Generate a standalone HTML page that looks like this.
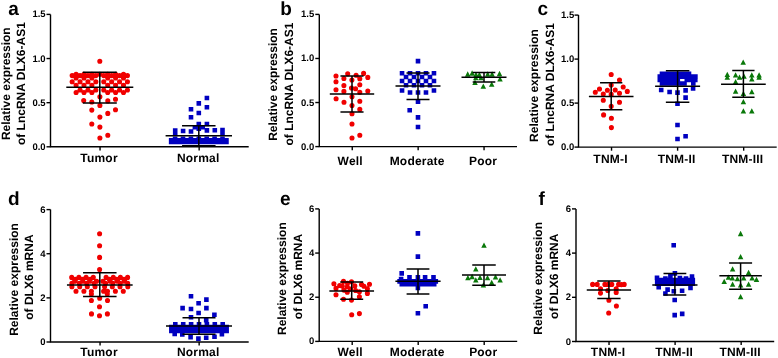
<!DOCTYPE html>
<html><head><meta charset="utf-8"><style>
html,body{margin:0;padding:0;background:#fff;}
svg{display:block;will-change:transform;}
text{font-family:"Liberation Sans", sans-serif;font-weight:bold;fill:#000;text-rendering:geometricPrecision;}
.tk{font-size:9.5px;}
.cat{font-size:12px;letter-spacing:0.2px;}
.let{font-size:19px;}
.yl{font-size:12px;}
</style></head><body>
<svg width="778" height="358" viewBox="0 0 778 358">
<path d="M50.5 14.4V146.8H248.7" fill="none" stroke="#000" stroke-width="1.4"/>
<line x1="46.5" y1="14.40" x2="50.5" y2="14.40" stroke="#000" stroke-width="1.4"/>
<text x="45.6" y="17.40" text-anchor="end" class="tk">1.5</text>
<line x1="46.5" y1="58.53" x2="50.5" y2="58.53" stroke="#000" stroke-width="1.4"/>
<text x="45.6" y="61.53" text-anchor="end" class="tk">1.0</text>
<line x1="46.5" y1="102.67" x2="50.5" y2="102.67" stroke="#000" stroke-width="1.4"/>
<text x="45.6" y="105.67" text-anchor="end" class="tk">0.5</text>
<line x1="46.5" y1="146.80" x2="50.5" y2="146.80" stroke="#000" stroke-width="1.4"/>
<text x="45.6" y="149.80" text-anchor="end" class="tk">0.0</text>
<line x1="100.05" y1="146.8" x2="100.05" y2="150.4" stroke="#000" stroke-width="1.4"/>
<text x="99.05" y="162.2" text-anchor="middle" class="cat">Tumor</text>
<line x1="199.15" y1="146.8" x2="199.15" y2="150.4" stroke="#000" stroke-width="1.4"/>
<text x="198.15" y="162.2" text-anchor="middle" class="cat">Normal</text>
<text x="8.3" y="15.1" class="let">a</text>
<text transform="translate(9.60 83.70) rotate(-90)" text-anchor="middle" class="yl">Relative expression</text>
<text transform="translate(24.90 83.60) rotate(-90)" text-anchor="middle" class="yl">of LncRNA DLX6-AS1</text>
<path fill="#f00000" d="M97.25 61.20a2.55 2.55 0 1 0 5.1 0a2.55 2.55 0 1 0 -5.1 0zM73.55 74.30a2.55 2.55 0 1 0 5.1 0a2.55 2.55 0 1 0 -5.1 0zM81.45 74.30a2.55 2.55 0 1 0 5.1 0a2.55 2.55 0 1 0 -5.1 0zM89.35 74.30a2.55 2.55 0 1 0 5.1 0a2.55 2.55 0 1 0 -5.1 0zM97.25 74.30a2.55 2.55 0 1 0 5.1 0a2.55 2.55 0 1 0 -5.1 0zM105.15 74.30a2.55 2.55 0 1 0 5.1 0a2.55 2.55 0 1 0 -5.1 0zM113.05 74.30a2.55 2.55 0 1 0 5.1 0a2.55 2.55 0 1 0 -5.1 0zM120.95 74.30a2.55 2.55 0 1 0 5.1 0a2.55 2.55 0 1 0 -5.1 0zM69.60 75.60a2.55 2.55 0 1 0 5.1 0a2.55 2.55 0 1 0 -5.1 0zM77.50 75.60a2.55 2.55 0 1 0 5.1 0a2.55 2.55 0 1 0 -5.1 0zM85.40 75.60a2.55 2.55 0 1 0 5.1 0a2.55 2.55 0 1 0 -5.1 0zM93.30 75.60a2.55 2.55 0 1 0 5.1 0a2.55 2.55 0 1 0 -5.1 0zM101.20 75.60a2.55 2.55 0 1 0 5.1 0a2.55 2.55 0 1 0 -5.1 0zM109.10 75.60a2.55 2.55 0 1 0 5.1 0a2.55 2.55 0 1 0 -5.1 0zM117.00 75.60a2.55 2.55 0 1 0 5.1 0a2.55 2.55 0 1 0 -5.1 0zM124.90 75.60a2.55 2.55 0 1 0 5.1 0a2.55 2.55 0 1 0 -5.1 0zM73.55 78.00a2.55 2.55 0 1 0 5.1 0a2.55 2.55 0 1 0 -5.1 0zM81.45 78.00a2.55 2.55 0 1 0 5.1 0a2.55 2.55 0 1 0 -5.1 0zM89.35 78.00a2.55 2.55 0 1 0 5.1 0a2.55 2.55 0 1 0 -5.1 0zM105.15 78.00a2.55 2.55 0 1 0 5.1 0a2.55 2.55 0 1 0 -5.1 0zM113.05 78.00a2.55 2.55 0 1 0 5.1 0a2.55 2.55 0 1 0 -5.1 0zM120.95 78.00a2.55 2.55 0 1 0 5.1 0a2.55 2.55 0 1 0 -5.1 0zM69.60 81.80a2.55 2.55 0 1 0 5.1 0a2.55 2.55 0 1 0 -5.1 0zM77.50 81.80a2.55 2.55 0 1 0 5.1 0a2.55 2.55 0 1 0 -5.1 0zM85.40 81.80a2.55 2.55 0 1 0 5.1 0a2.55 2.55 0 1 0 -5.1 0zM93.30 81.80a2.55 2.55 0 1 0 5.1 0a2.55 2.55 0 1 0 -5.1 0zM101.20 81.80a2.55 2.55 0 1 0 5.1 0a2.55 2.55 0 1 0 -5.1 0zM109.10 81.80a2.55 2.55 0 1 0 5.1 0a2.55 2.55 0 1 0 -5.1 0zM117.00 81.80a2.55 2.55 0 1 0 5.1 0a2.55 2.55 0 1 0 -5.1 0zM124.90 81.80a2.55 2.55 0 1 0 5.1 0a2.55 2.55 0 1 0 -5.1 0zM73.55 85.20a2.55 2.55 0 1 0 5.1 0a2.55 2.55 0 1 0 -5.1 0zM81.45 85.20a2.55 2.55 0 1 0 5.1 0a2.55 2.55 0 1 0 -5.1 0zM89.35 85.20a2.55 2.55 0 1 0 5.1 0a2.55 2.55 0 1 0 -5.1 0zM105.15 85.20a2.55 2.55 0 1 0 5.1 0a2.55 2.55 0 1 0 -5.1 0zM113.05 85.20a2.55 2.55 0 1 0 5.1 0a2.55 2.55 0 1 0 -5.1 0zM120.95 85.20a2.55 2.55 0 1 0 5.1 0a2.55 2.55 0 1 0 -5.1 0zM77.50 90.00a2.55 2.55 0 1 0 5.1 0a2.55 2.55 0 1 0 -5.1 0zM85.40 90.00a2.55 2.55 0 1 0 5.1 0a2.55 2.55 0 1 0 -5.1 0zM93.30 90.00a2.55 2.55 0 1 0 5.1 0a2.55 2.55 0 1 0 -5.1 0zM101.20 90.00a2.55 2.55 0 1 0 5.1 0a2.55 2.55 0 1 0 -5.1 0zM109.10 90.00a2.55 2.55 0 1 0 5.1 0a2.55 2.55 0 1 0 -5.1 0zM117.00 90.00a2.55 2.55 0 1 0 5.1 0a2.55 2.55 0 1 0 -5.1 0zM124.90 90.00a2.55 2.55 0 1 0 5.1 0a2.55 2.55 0 1 0 -5.1 0zM73.55 92.50a2.55 2.55 0 1 0 5.1 0a2.55 2.55 0 1 0 -5.1 0zM81.45 92.50a2.55 2.55 0 1 0 5.1 0a2.55 2.55 0 1 0 -5.1 0zM89.35 92.50a2.55 2.55 0 1 0 5.1 0a2.55 2.55 0 1 0 -5.1 0zM105.15 92.50a2.55 2.55 0 1 0 5.1 0a2.55 2.55 0 1 0 -5.1 0zM113.05 92.50a2.55 2.55 0 1 0 5.1 0a2.55 2.55 0 1 0 -5.1 0zM120.95 92.50a2.55 2.55 0 1 0 5.1 0a2.55 2.55 0 1 0 -5.1 0zM81.15 100.60a2.55 2.55 0 1 0 5.1 0a2.55 2.55 0 1 0 -5.1 0zM89.25 102.00a2.55 2.55 0 1 0 5.1 0a2.55 2.55 0 1 0 -5.1 0zM97.35 96.70a2.55 2.55 0 1 0 5.1 0a2.55 2.55 0 1 0 -5.1 0zM105.25 100.90a2.55 2.55 0 1 0 5.1 0a2.55 2.55 0 1 0 -5.1 0zM112.95 99.20a2.55 2.55 0 1 0 5.1 0a2.55 2.55 0 1 0 -5.1 0zM97.35 105.50a2.55 2.55 0 1 0 5.1 0a2.55 2.55 0 1 0 -5.1 0zM89.25 110.10a2.55 2.55 0 1 0 5.1 0a2.55 2.55 0 1 0 -5.1 0zM112.95 109.70a2.55 2.55 0 1 0 5.1 0a2.55 2.55 0 1 0 -5.1 0zM105.25 113.40a2.55 2.55 0 1 0 5.1 0a2.55 2.55 0 1 0 -5.1 0zM97.35 117.10a2.55 2.55 0 1 0 5.1 0a2.55 2.55 0 1 0 -5.1 0zM89.25 124.00a2.55 2.55 0 1 0 5.1 0a2.55 2.55 0 1 0 -5.1 0zM97.35 127.10a2.55 2.55 0 1 0 5.1 0a2.55 2.55 0 1 0 -5.1 0zM105.25 135.20a2.55 2.55 0 1 0 5.1 0a2.55 2.55 0 1 0 -5.1 0zM97.35 138.00a2.55 2.55 0 1 0 5.1 0a2.55 2.55 0 1 0 -5.1 0z"/>
<path fill="#0000c0" d="M204.60 95.70h4.6v4.6h-4.6zM196.50 101.10h4.6v4.6h-4.6zM204.60 105.00h4.6v4.6h-4.6zM188.70 107.00h4.6v4.6h-4.6zM196.50 110.70h4.6v4.6h-4.6zM188.70 115.00h4.6v4.6h-4.6zM196.50 121.70h4.6v4.6h-4.6zM204.60 121.70h4.6v4.6h-4.6zM172.90 128.20h4.6v4.6h-4.6zM180.80 128.70h4.6v4.6h-4.6zM188.70 129.20h4.6v4.6h-4.6zM196.50 126.30h4.6v4.6h-4.6zM204.60 128.10h4.6v4.6h-4.6zM212.50 127.90h4.6v4.6h-4.6zM220.20 127.70h4.6v4.6h-4.6zM220.20 131.30h4.6v4.6h-4.6zM172.90 131.50h4.6v4.6h-4.6zM192.60 125.00h4.6v4.6h-4.6zM200.40 125.00h4.6v4.6h-4.6zM172.80 136.60h4.6v4.6h-4.6zM180.70 136.60h4.6v4.6h-4.6zM188.60 136.60h4.6v4.6h-4.6zM196.50 136.60h4.6v4.6h-4.6zM204.40 136.60h4.6v4.6h-4.6zM212.30 136.60h4.6v4.6h-4.6zM220.20 136.60h4.6v4.6h-4.6zM168.85 138.10h4.6v4.6h-4.6zM172.80 138.10h4.6v4.6h-4.6zM176.75 138.10h4.6v4.6h-4.6zM180.70 138.10h4.6v4.6h-4.6zM184.65 138.10h4.6v4.6h-4.6zM188.60 138.10h4.6v4.6h-4.6zM192.55 138.10h4.6v4.6h-4.6zM196.50 138.10h4.6v4.6h-4.6zM200.45 138.10h4.6v4.6h-4.6zM204.40 138.10h4.6v4.6h-4.6zM208.35 138.10h4.6v4.6h-4.6zM212.30 138.10h4.6v4.6h-4.6zM216.25 138.10h4.6v4.6h-4.6zM220.20 138.10h4.6v4.6h-4.6zM224.15 138.10h4.6v4.6h-4.6zM168.85 139.70h4.6v4.6h-4.6zM172.80 139.70h4.6v4.6h-4.6zM176.75 139.70h4.6v4.6h-4.6zM180.70 139.70h4.6v4.6h-4.6zM184.65 139.70h4.6v4.6h-4.6zM188.60 139.70h4.6v4.6h-4.6zM192.55 139.70h4.6v4.6h-4.6zM196.50 139.70h4.6v4.6h-4.6zM200.45 139.70h4.6v4.6h-4.6zM204.40 139.70h4.6v4.6h-4.6zM208.35 139.70h4.6v4.6h-4.6zM212.30 139.70h4.6v4.6h-4.6zM216.25 139.70h4.6v4.6h-4.6zM220.20 139.70h4.6v4.6h-4.6zM224.15 139.70h4.6v4.6h-4.6z"/>
<path d="M66.30 87.2H133.30M82.80 72.3H116.80M82.80 103.1H116.80M99.80 72.3V103.1" fill="none" stroke="#000" stroke-width="1.5"/>
<path d="M165.60 135.7H232.00M182.05 125.8H215.55M182.05 145.8H215.55M198.80 125.8V145.8" fill="none" stroke="#000" stroke-width="1.5"/>
<path d="M319.3 14.4V146.6H517.0" fill="none" stroke="#000" stroke-width="1.4"/>
<line x1="315.3" y1="14.40" x2="319.3" y2="14.40" stroke="#000" stroke-width="1.4"/>
<text x="314.2" y="17.40" text-anchor="end" class="tk">1.5</text>
<line x1="315.3" y1="58.47" x2="319.3" y2="58.47" stroke="#000" stroke-width="1.4"/>
<text x="314.2" y="61.47" text-anchor="end" class="tk">1.0</text>
<line x1="315.3" y1="102.53" x2="319.3" y2="102.53" stroke="#000" stroke-width="1.4"/>
<text x="314.2" y="105.53" text-anchor="end" class="tk">0.5</text>
<line x1="315.3" y1="146.60" x2="319.3" y2="146.60" stroke="#000" stroke-width="1.4"/>
<text x="314.2" y="149.60" text-anchor="end" class="tk">0.0</text>
<line x1="352.25" y1="146.6" x2="352.25" y2="150.2" stroke="#000" stroke-width="1.4"/>
<text x="350.25" y="164.5" text-anchor="middle" class="cat">Well</text>
<line x1="418.15" y1="146.6" x2="418.15" y2="150.2" stroke="#000" stroke-width="1.4"/>
<text x="417.15" y="164.5" text-anchor="middle" class="cat">Moderate</text>
<line x1="484.05" y1="146.6" x2="484.05" y2="150.2" stroke="#000" stroke-width="1.4"/>
<text x="483.05" y="164.5" text-anchor="middle" class="cat">Poor</text>
<text x="280.2" y="15.1" class="let">b</text>
<text transform="translate(277.40 84.45) rotate(-90)" text-anchor="middle" class="yl">Relative expression</text>
<text transform="translate(293.00 84.05) rotate(-90)" text-anchor="middle" class="yl">of LncRNA DLX6-AS1</text>
<path fill="#f00000" d="M333.45 76.00a2.55 2.55 0 1 0 5.1 0a2.55 2.55 0 1 0 -5.1 0zM345.15 73.80a2.55 2.55 0 1 0 5.1 0a2.55 2.55 0 1 0 -5.1 0zM353.55 75.20a2.55 2.55 0 1 0 5.1 0a2.55 2.55 0 1 0 -5.1 0zM361.05 73.40a2.55 2.55 0 1 0 5.1 0a2.55 2.55 0 1 0 -5.1 0zM365.25 77.40a2.55 2.55 0 1 0 5.1 0a2.55 2.55 0 1 0 -5.1 0zM341.35 78.50a2.55 2.55 0 1 0 5.1 0a2.55 2.55 0 1 0 -5.1 0zM349.35 80.00a2.55 2.55 0 1 0 5.1 0a2.55 2.55 0 1 0 -5.1 0zM357.25 78.80a2.55 2.55 0 1 0 5.1 0a2.55 2.55 0 1 0 -5.1 0zM333.45 81.70a2.55 2.55 0 1 0 5.1 0a2.55 2.55 0 1 0 -5.1 0zM341.35 85.50a2.55 2.55 0 1 0 5.1 0a2.55 2.55 0 1 0 -5.1 0zM357.25 84.70a2.55 2.55 0 1 0 5.1 0a2.55 2.55 0 1 0 -5.1 0zM333.45 89.70a2.55 2.55 0 1 0 5.1 0a2.55 2.55 0 1 0 -5.1 0zM348.95 88.00a2.55 2.55 0 1 0 5.1 0a2.55 2.55 0 1 0 -5.1 0zM353.05 88.80a2.55 2.55 0 1 0 5.1 0a2.55 2.55 0 1 0 -5.1 0zM341.35 91.40a2.55 2.55 0 1 0 5.1 0a2.55 2.55 0 1 0 -5.1 0zM357.25 92.20a2.55 2.55 0 1 0 5.1 0a2.55 2.55 0 1 0 -5.1 0zM365.25 91.00a2.55 2.55 0 1 0 5.1 0a2.55 2.55 0 1 0 -5.1 0zM333.55 98.80a2.55 2.55 0 1 0 5.1 0a2.55 2.55 0 1 0 -5.1 0zM349.45 96.70a2.55 2.55 0 1 0 5.1 0a2.55 2.55 0 1 0 -5.1 0zM341.45 102.30a2.55 2.55 0 1 0 5.1 0a2.55 2.55 0 1 0 -5.1 0zM349.45 105.50a2.55 2.55 0 1 0 5.1 0a2.55 2.55 0 1 0 -5.1 0zM357.25 101.30a2.55 2.55 0 1 0 5.1 0a2.55 2.55 0 1 0 -5.1 0zM357.25 109.40a2.55 2.55 0 1 0 5.1 0a2.55 2.55 0 1 0 -5.1 0zM349.45 113.80a2.55 2.55 0 1 0 5.1 0a2.55 2.55 0 1 0 -5.1 0zM349.45 124.00a2.55 2.55 0 1 0 5.1 0a2.55 2.55 0 1 0 -5.1 0zM349.45 138.00a2.55 2.55 0 1 0 5.1 0a2.55 2.55 0 1 0 -5.1 0zM357.25 135.20a2.55 2.55 0 1 0 5.1 0a2.55 2.55 0 1 0 -5.1 0z"/>
<path fill="#0000c0" d="M415.70 58.80h4.6v4.6h-4.6zM399.74 70.90h4.6v4.6h-4.6zM407.72 70.90h4.6v4.6h-4.6zM415.70 70.90h4.6v4.6h-4.6zM423.68 70.90h4.6v4.6h-4.6zM431.66 70.90h4.6v4.6h-4.6zM403.73 74.70h4.6v4.6h-4.6zM411.71 74.70h4.6v4.6h-4.6zM419.69 74.70h4.6v4.6h-4.6zM427.67 74.70h4.6v4.6h-4.6zM399.74 78.70h4.6v4.6h-4.6zM407.72 78.70h4.6v4.6h-4.6zM415.70 78.70h4.6v4.6h-4.6zM423.68 78.70h4.6v4.6h-4.6zM431.66 78.70h4.6v4.6h-4.6zM403.73 83.00h4.6v4.6h-4.6zM411.71 83.00h4.6v4.6h-4.6zM419.69 83.00h4.6v4.6h-4.6zM427.67 83.00h4.6v4.6h-4.6zM399.74 88.20h4.6v4.6h-4.6zM431.66 88.20h4.6v4.6h-4.6zM407.72 90.20h4.6v4.6h-4.6zM415.70 90.20h4.6v4.6h-4.6zM423.68 90.20h4.6v4.6h-4.6zM415.70 99.50h4.6v4.6h-4.6zM407.40 107.90h4.6v4.6h-4.6zM415.70 115.10h4.6v4.6h-4.6zM415.70 124.70h4.6v4.6h-4.6z"/>
<path fill="#0a780a" d="M467.70 71.35L470.45 76.65H464.95ZM472.10 70.35L474.85 75.65H469.35ZM476.00 71.85L478.75 77.15H473.25ZM479.40 71.85L482.15 77.15H476.65ZM487.70 71.35L490.45 76.65H484.95ZM492.10 71.35L494.85 76.65H489.35ZM499.50 70.85L502.25 76.15H496.75ZM500.00 76.25L502.75 81.55H497.25ZM475.80 75.05L478.55 80.35H473.05ZM481.00 75.05L483.75 80.35H478.25ZM475.00 79.65L477.75 84.95H472.25ZM483.30 83.55L486.05 88.85H480.55ZM491.70 81.55L494.45 86.85H488.95Z"/>
<path d="M329.80 93.9H374.20M340.45 76H363.55M340.45 112H363.55M352.00 76V112" fill="none" stroke="#000" stroke-width="1.5"/>
<path d="M395.50 86.1H440.50M406.50 72.9H429.50M406.50 99.4H429.50M418.00 72.9V99.4" fill="none" stroke="#000" stroke-width="1.5"/>
<path d="M461.50 77.3H506.50M472.70 72.6H495.30M472.70 82.1H495.30M484.00 72.6V82.1" fill="none" stroke="#000" stroke-width="1.5"/>
<path d="M578.5 15.1V147.1H776.7" fill="none" stroke="#000" stroke-width="1.4"/>
<line x1="574.5" y1="15.10" x2="578.5" y2="15.10" stroke="#000" stroke-width="1.4"/>
<text x="574.2" y="18.10" text-anchor="end" class="tk">1.5</text>
<line x1="574.5" y1="59.10" x2="578.5" y2="59.10" stroke="#000" stroke-width="1.4"/>
<text x="574.2" y="62.10" text-anchor="end" class="tk">1.0</text>
<line x1="574.5" y1="103.10" x2="578.5" y2="103.10" stroke="#000" stroke-width="1.4"/>
<text x="574.2" y="106.10" text-anchor="end" class="tk">0.5</text>
<line x1="574.5" y1="147.10" x2="578.5" y2="147.10" stroke="#000" stroke-width="1.4"/>
<text x="574.2" y="150.10" text-anchor="end" class="tk">0.0</text>
<line x1="611.53" y1="147.1" x2="611.53" y2="150.7" stroke="#000" stroke-width="1.4"/>
<text x="610.53" y="162.6" text-anchor="middle" class="cat">TNM-I</text>
<line x1="677.60" y1="147.1" x2="677.60" y2="150.7" stroke="#000" stroke-width="1.4"/>
<text x="676.60" y="162.6" text-anchor="middle" class="cat">TNM-II</text>
<line x1="743.67" y1="147.1" x2="743.67" y2="150.7" stroke="#000" stroke-width="1.4"/>
<text x="742.67" y="162.6" text-anchor="middle" class="cat">TNM-III</text>
<text x="537.4" y="15.3" class="let">c</text>
<text transform="translate(538.00 85.55) rotate(-90)" text-anchor="middle" class="yl">Relative expression</text>
<text transform="translate(553.80 84.60) rotate(-90)" text-anchor="middle" class="yl">of LncRNA DLX6-AS1</text>
<path fill="#f00000" d="M608.65 74.50a2.55 2.55 0 1 0 5.1 0a2.55 2.55 0 1 0 -5.1 0zM616.95 80.00a2.55 2.55 0 1 0 5.1 0a2.55 2.55 0 1 0 -5.1 0zM608.65 85.00a2.55 2.55 0 1 0 5.1 0a2.55 2.55 0 1 0 -5.1 0zM620.65 87.00a2.55 2.55 0 1 0 5.1 0a2.55 2.55 0 1 0 -5.1 0zM596.95 89.00a2.55 2.55 0 1 0 5.1 0a2.55 2.55 0 1 0 -5.1 0zM604.85 90.20a2.55 2.55 0 1 0 5.1 0a2.55 2.55 0 1 0 -5.1 0zM612.65 90.00a2.55 2.55 0 1 0 5.1 0a2.55 2.55 0 1 0 -5.1 0zM624.75 91.40a2.55 2.55 0 1 0 5.1 0a2.55 2.55 0 1 0 -5.1 0zM592.75 92.30a2.55 2.55 0 1 0 5.1 0a2.55 2.55 0 1 0 -5.1 0zM600.75 94.10a2.55 2.55 0 1 0 5.1 0a2.55 2.55 0 1 0 -5.1 0zM608.65 94.40a2.55 2.55 0 1 0 5.1 0a2.55 2.55 0 1 0 -5.1 0zM616.95 93.20a2.55 2.55 0 1 0 5.1 0a2.55 2.55 0 1 0 -5.1 0zM600.75 100.30a2.55 2.55 0 1 0 5.1 0a2.55 2.55 0 1 0 -5.1 0zM616.95 102.30a2.55 2.55 0 1 0 5.1 0a2.55 2.55 0 1 0 -5.1 0zM608.65 106.20a2.55 2.55 0 1 0 5.1 0a2.55 2.55 0 1 0 -5.1 0zM601.05 114.90a2.55 2.55 0 1 0 5.1 0a2.55 2.55 0 1 0 -5.1 0zM608.85 118.20a2.55 2.55 0 1 0 5.1 0a2.55 2.55 0 1 0 -5.1 0zM608.85 127.60a2.55 2.55 0 1 0 5.1 0a2.55 2.55 0 1 0 -5.1 0z"/>
<path fill="#0000c0" d="M659.70 71.40h4.6v4.6h-4.6zM664.20 71.40h4.6v4.6h-4.6zM668.70 71.40h4.6v4.6h-4.6zM673.20 71.40h4.6v4.6h-4.6zM677.70 71.40h4.6v4.6h-4.6zM682.20 71.40h4.6v4.6h-4.6zM686.70 71.40h4.6v4.6h-4.6zM657.50 74.30h4.6v4.6h-4.6zM662.00 74.30h4.6v4.6h-4.6zM666.50 74.30h4.6v4.6h-4.6zM671.00 74.30h4.6v4.6h-4.6zM675.50 74.30h4.6v4.6h-4.6zM680.00 74.30h4.6v4.6h-4.6zM684.50 74.30h4.6v4.6h-4.6zM689.00 74.30h4.6v4.6h-4.6zM693.10 74.30h4.6v4.6h-4.6zM657.50 77.70h4.6v4.6h-4.6zM662.00 77.70h4.6v4.6h-4.6zM666.50 77.70h4.6v4.6h-4.6zM671.00 77.70h4.6v4.6h-4.6zM675.50 77.70h4.6v4.6h-4.6zM684.50 77.70h4.6v4.6h-4.6zM689.00 77.70h4.6v4.6h-4.6zM693.00 77.70h4.6v4.6h-4.6zM659.70 81.20h4.6v4.6h-4.6zM664.20 81.20h4.6v4.6h-4.6zM668.70 81.20h4.6v4.6h-4.6zM673.20 81.20h4.6v4.6h-4.6zM677.70 81.20h4.6v4.6h-4.6zM682.20 81.20h4.6v4.6h-4.6zM691.00 81.20h4.6v4.6h-4.6zM658.90 87.70h4.6v4.6h-4.6zM667.30 89.70h4.6v4.6h-4.6zM675.20 90.30h4.6v4.6h-4.6zM683.30 88.10h4.6v4.6h-4.6zM690.80 86.10h4.6v4.6h-4.6zM683.30 95.30h4.6v4.6h-4.6zM675.20 101.50h4.6v4.6h-4.6zM675.20 122.70h4.6v4.6h-4.6zM675.20 136.70h4.6v4.6h-4.6zM683.30 133.90h4.6v4.6h-4.6z"/>
<path fill="#0a780a" d="M743.20 59.45L745.95 64.75H740.45ZM727.30 71.75L730.05 77.05H724.55ZM727.30 74.55L730.05 79.85H724.55ZM735.60 72.25L738.35 77.55H732.85ZM739.50 74.55L742.25 79.85H736.75ZM744.00 73.45L746.75 78.75H741.25ZM751.80 72.25L754.55 77.55H749.05ZM751.80 76.25L754.55 81.55H749.05ZM759.10 72.25L761.85 77.55H756.35ZM759.10 74.55L761.85 79.85H756.35ZM735.60 78.95L738.35 84.25H732.85ZM735.60 88.45L738.35 93.75H732.85ZM751.80 89.05L754.55 94.35H749.05ZM743.40 90.65L746.15 95.95H740.65ZM743.40 98.95L746.15 104.25H740.65ZM743.40 108.15L746.15 113.45H740.65ZM751.80 108.15L754.55 113.45H749.05Z"/>
<path d="M588.90 96.4H633.50M600.05 82.7H622.35M600.05 109.8H622.35M611.20 82.7V109.8" fill="none" stroke="#000" stroke-width="1.5"/>
<path d="M655.10 86.3H700.10M665.85 70.8H689.35M665.85 102.3H689.35M677.60 70.8V102.3" fill="none" stroke="#000" stroke-width="1.5"/>
<path d="M721.05 84.2H765.75M732.25 70.6H754.55M732.25 97.3H754.55M743.40 70.6V97.3" fill="none" stroke="#000" stroke-width="1.5"/>
<path d="M50.5 209.6V342.0H248.7" fill="none" stroke="#000" stroke-width="1.4"/>
<line x1="46.5" y1="209.60" x2="50.5" y2="209.60" stroke="#000" stroke-width="1.4"/>
<text x="45.6" y="212.60" text-anchor="end" class="tk">6</text>
<line x1="46.5" y1="253.73" x2="50.5" y2="253.73" stroke="#000" stroke-width="1.4"/>
<text x="45.6" y="256.73" text-anchor="end" class="tk">4</text>
<line x1="46.5" y1="297.87" x2="50.5" y2="297.87" stroke="#000" stroke-width="1.4"/>
<text x="45.6" y="300.87" text-anchor="end" class="tk">2</text>
<line x1="46.5" y1="342.00" x2="50.5" y2="342.00" stroke="#000" stroke-width="1.4"/>
<text x="45.6" y="345.00" text-anchor="end" class="tk">0</text>
<line x1="100.05" y1="342.0" x2="100.05" y2="345.6" stroke="#000" stroke-width="1.4"/>
<text x="99.05" y="356.3" text-anchor="middle" class="cat">Tumor</text>
<line x1="199.15" y1="342.0" x2="199.15" y2="345.6" stroke="#000" stroke-width="1.4"/>
<text x="198.15" y="356.3" text-anchor="middle" class="cat">Normal</text>
<text x="7.9" y="205.1" class="let">d</text>
<text transform="translate(17.90 279.45) rotate(-90)" text-anchor="middle" class="yl">Relative expression</text>
<text transform="translate(33.00 277.05) rotate(-90)" text-anchor="middle" class="yl">of DLX6 mRNA</text>
<path fill="#f00000" d="M97.05 233.80a2.55 2.55 0 1 0 5.1 0a2.55 2.55 0 1 0 -5.1 0zM97.05 245.70a2.55 2.55 0 1 0 5.1 0a2.55 2.55 0 1 0 -5.1 0zM97.05 257.40a2.55 2.55 0 1 0 5.1 0a2.55 2.55 0 1 0 -5.1 0zM97.05 269.50a2.55 2.55 0 1 0 5.1 0a2.55 2.55 0 1 0 -5.1 0zM69.15 277.40a2.55 2.55 0 1 0 5.1 0a2.55 2.55 0 1 0 -5.1 0zM76.35 277.40a2.55 2.55 0 1 0 5.1 0a2.55 2.55 0 1 0 -5.1 0zM83.55 277.40a2.55 2.55 0 1 0 5.1 0a2.55 2.55 0 1 0 -5.1 0zM90.75 277.40a2.55 2.55 0 1 0 5.1 0a2.55 2.55 0 1 0 -5.1 0zM103.55 277.40a2.55 2.55 0 1 0 5.1 0a2.55 2.55 0 1 0 -5.1 0zM110.75 277.40a2.55 2.55 0 1 0 5.1 0a2.55 2.55 0 1 0 -5.1 0zM117.85 277.40a2.55 2.55 0 1 0 5.1 0a2.55 2.55 0 1 0 -5.1 0zM125.05 277.40a2.55 2.55 0 1 0 5.1 0a2.55 2.55 0 1 0 -5.1 0zM72.15 281.30a2.55 2.55 0 1 0 5.1 0a2.55 2.55 0 1 0 -5.1 0zM80.05 281.30a2.55 2.55 0 1 0 5.1 0a2.55 2.55 0 1 0 -5.1 0zM87.05 281.30a2.55 2.55 0 1 0 5.1 0a2.55 2.55 0 1 0 -5.1 0zM94.05 281.30a2.55 2.55 0 1 0 5.1 0a2.55 2.55 0 1 0 -5.1 0zM100.35 281.30a2.55 2.55 0 1 0 5.1 0a2.55 2.55 0 1 0 -5.1 0zM107.55 281.30a2.55 2.55 0 1 0 5.1 0a2.55 2.55 0 1 0 -5.1 0zM115.05 281.30a2.55 2.55 0 1 0 5.1 0a2.55 2.55 0 1 0 -5.1 0zM122.05 281.30a2.55 2.55 0 1 0 5.1 0a2.55 2.55 0 1 0 -5.1 0zM72.95 279.40a2.55 2.55 0 1 0 5.1 0a2.55 2.55 0 1 0 -5.1 0zM80.35 279.40a2.55 2.55 0 1 0 5.1 0a2.55 2.55 0 1 0 -5.1 0zM87.65 279.40a2.55 2.55 0 1 0 5.1 0a2.55 2.55 0 1 0 -5.1 0zM106.85 279.40a2.55 2.55 0 1 0 5.1 0a2.55 2.55 0 1 0 -5.1 0zM114.15 279.40a2.55 2.55 0 1 0 5.1 0a2.55 2.55 0 1 0 -5.1 0zM121.45 279.40a2.55 2.55 0 1 0 5.1 0a2.55 2.55 0 1 0 -5.1 0zM69.35 283.20a2.55 2.55 0 1 0 5.1 0a2.55 2.55 0 1 0 -5.1 0zM76.75 283.20a2.55 2.55 0 1 0 5.1 0a2.55 2.55 0 1 0 -5.1 0zM84.15 283.20a2.55 2.55 0 1 0 5.1 0a2.55 2.55 0 1 0 -5.1 0zM91.55 283.20a2.55 2.55 0 1 0 5.1 0a2.55 2.55 0 1 0 -5.1 0zM102.95 283.20a2.55 2.55 0 1 0 5.1 0a2.55 2.55 0 1 0 -5.1 0zM110.35 283.20a2.55 2.55 0 1 0 5.1 0a2.55 2.55 0 1 0 -5.1 0zM117.75 283.20a2.55 2.55 0 1 0 5.1 0a2.55 2.55 0 1 0 -5.1 0zM125.15 283.20a2.55 2.55 0 1 0 5.1 0a2.55 2.55 0 1 0 -5.1 0zM69.35 286.80a2.55 2.55 0 1 0 5.1 0a2.55 2.55 0 1 0 -5.1 0zM77.15 286.80a2.55 2.55 0 1 0 5.1 0a2.55 2.55 0 1 0 -5.1 0zM84.75 286.80a2.55 2.55 0 1 0 5.1 0a2.55 2.55 0 1 0 -5.1 0zM92.45 286.80a2.55 2.55 0 1 0 5.1 0a2.55 2.55 0 1 0 -5.1 0zM102.05 286.80a2.55 2.55 0 1 0 5.1 0a2.55 2.55 0 1 0 -5.1 0zM109.75 286.80a2.55 2.55 0 1 0 5.1 0a2.55 2.55 0 1 0 -5.1 0zM117.45 286.80a2.55 2.55 0 1 0 5.1 0a2.55 2.55 0 1 0 -5.1 0zM125.25 286.80a2.55 2.55 0 1 0 5.1 0a2.55 2.55 0 1 0 -5.1 0zM73.45 291.30a2.55 2.55 0 1 0 5.1 0a2.55 2.55 0 1 0 -5.1 0zM81.35 291.30a2.55 2.55 0 1 0 5.1 0a2.55 2.55 0 1 0 -5.1 0zM88.85 291.30a2.55 2.55 0 1 0 5.1 0a2.55 2.55 0 1 0 -5.1 0zM101.05 291.30a2.55 2.55 0 1 0 5.1 0a2.55 2.55 0 1 0 -5.1 0zM104.95 291.30a2.55 2.55 0 1 0 5.1 0a2.55 2.55 0 1 0 -5.1 0zM112.85 291.30a2.55 2.55 0 1 0 5.1 0a2.55 2.55 0 1 0 -5.1 0zM120.75 291.30a2.55 2.55 0 1 0 5.1 0a2.55 2.55 0 1 0 -5.1 0zM88.85 294.00a2.55 2.55 0 1 0 5.1 0a2.55 2.55 0 1 0 -5.1 0zM104.75 294.00a2.55 2.55 0 1 0 5.1 0a2.55 2.55 0 1 0 -5.1 0zM97.15 298.30a2.55 2.55 0 1 0 5.1 0a2.55 2.55 0 1 0 -5.1 0zM88.85 300.50a2.55 2.55 0 1 0 5.1 0a2.55 2.55 0 1 0 -5.1 0zM104.95 300.50a2.55 2.55 0 1 0 5.1 0a2.55 2.55 0 1 0 -5.1 0zM96.95 306.70a2.55 2.55 0 1 0 5.1 0a2.55 2.55 0 1 0 -5.1 0zM88.95 313.90a2.55 2.55 0 1 0 5.1 0a2.55 2.55 0 1 0 -5.1 0zM104.85 313.90a2.55 2.55 0 1 0 5.1 0a2.55 2.55 0 1 0 -5.1 0zM96.95 315.70a2.55 2.55 0 1 0 5.1 0a2.55 2.55 0 1 0 -5.1 0z"/>
<path fill="#0000c0" d="M188.70 294.00h4.6v4.6h-4.6zM204.10 297.30h4.6v4.6h-4.6zM196.30 300.90h4.6v4.6h-4.6zM180.30 305.80h4.6v4.6h-4.6zM188.70 306.70h4.6v4.6h-4.6zM204.10 305.80h4.6v4.6h-4.6zM196.30 310.70h4.6v4.6h-4.6zM212.10 312.50h4.6v4.6h-4.6zM188.70 314.90h4.6v4.6h-4.6zM203.90 318.00h4.6v4.6h-4.6zM173.00 321.90h4.6v4.6h-4.6zM180.90 321.90h4.6v4.6h-4.6zM188.80 321.90h4.6v4.6h-4.6zM196.70 321.90h4.6v4.6h-4.6zM204.60 321.90h4.6v4.6h-4.6zM212.50 321.90h4.6v4.6h-4.6zM220.40 321.90h4.6v4.6h-4.6zM169.05 324.70h4.6v4.6h-4.6zM173.00 324.70h4.6v4.6h-4.6zM176.95 324.70h4.6v4.6h-4.6zM180.90 324.70h4.6v4.6h-4.6zM184.85 324.70h4.6v4.6h-4.6zM188.80 324.70h4.6v4.6h-4.6zM192.75 324.70h4.6v4.6h-4.6zM196.70 324.70h4.6v4.6h-4.6zM200.65 324.70h4.6v4.6h-4.6zM204.60 324.70h4.6v4.6h-4.6zM208.55 324.70h4.6v4.6h-4.6zM212.50 324.70h4.6v4.6h-4.6zM216.45 324.70h4.6v4.6h-4.6zM220.40 324.70h4.6v4.6h-4.6zM224.35 324.70h4.6v4.6h-4.6zM169.05 328.70h4.6v4.6h-4.6zM173.00 328.70h4.6v4.6h-4.6zM176.95 328.70h4.6v4.6h-4.6zM180.90 328.70h4.6v4.6h-4.6zM184.85 328.70h4.6v4.6h-4.6zM188.80 328.70h4.6v4.6h-4.6zM192.75 328.70h4.6v4.6h-4.6zM196.70 328.70h4.6v4.6h-4.6zM200.65 328.70h4.6v4.6h-4.6zM204.60 328.70h4.6v4.6h-4.6zM208.55 328.70h4.6v4.6h-4.6zM212.50 328.70h4.6v4.6h-4.6zM216.45 328.70h4.6v4.6h-4.6zM220.40 328.70h4.6v4.6h-4.6zM224.35 328.70h4.6v4.6h-4.6zM172.40 331.70h4.6v4.6h-4.6zM180.00 332.10h4.6v4.6h-4.6zM219.60 331.90h4.6v4.6h-4.6zM188.30 334.90h4.6v4.6h-4.6zM196.10 336.30h4.6v4.6h-4.6zM203.90 335.50h4.6v4.6h-4.6zM212.20 334.50h4.6v4.6h-4.6z"/>
<path d="M66.95 285.0H132.65M83.05 272.8H116.55M83.05 296.5H116.55M99.80 272.8V296.5" fill="none" stroke="#000" stroke-width="1.5"/>
<path d="M166.00 326.0H232.00M182.50 317.8H215.50M182.50 334.2H215.50M199.00 317.8V334.2" fill="none" stroke="#000" stroke-width="1.5"/>
<path d="M319.2 208.9V341.4H517.2" fill="none" stroke="#000" stroke-width="1.4"/>
<line x1="315.2" y1="208.90" x2="319.2" y2="208.90" stroke="#000" stroke-width="1.4"/>
<text x="314.3" y="211.90" text-anchor="end" class="tk">6</text>
<line x1="315.2" y1="253.07" x2="319.2" y2="253.07" stroke="#000" stroke-width="1.4"/>
<text x="314.3" y="256.07" text-anchor="end" class="tk">4</text>
<line x1="315.2" y1="297.23" x2="319.2" y2="297.23" stroke="#000" stroke-width="1.4"/>
<text x="314.3" y="300.23" text-anchor="end" class="tk">2</text>
<line x1="315.2" y1="341.40" x2="319.2" y2="341.40" stroke="#000" stroke-width="1.4"/>
<text x="314.3" y="344.40" text-anchor="end" class="tk">0</text>
<line x1="352.20" y1="341.4" x2="352.20" y2="345.0" stroke="#000" stroke-width="1.4"/>
<text x="350.20" y="356.2" text-anchor="middle" class="cat">Well</text>
<line x1="418.20" y1="341.4" x2="418.20" y2="345.0" stroke="#000" stroke-width="1.4"/>
<text x="417.20" y="356.2" text-anchor="middle" class="cat">Moderate</text>
<line x1="484.20" y1="341.4" x2="484.20" y2="345.0" stroke="#000" stroke-width="1.4"/>
<text x="483.20" y="356.2" text-anchor="middle" class="cat">Poor</text>
<text x="279.9" y="205.0" class="let">e</text>
<text transform="translate(286.00 278.65) rotate(-90)" text-anchor="middle" class="yl">Relative expression</text>
<text transform="translate(301.70 276.50) rotate(-90)" text-anchor="middle" class="yl">of DLX6 mRNA</text>
<path fill="#f00000" d="M331.35 283.80a2.55 2.55 0 1 0 5.1 0a2.55 2.55 0 1 0 -5.1 0zM333.45 288.40a2.55 2.55 0 1 0 5.1 0a2.55 2.55 0 1 0 -5.1 0zM337.15 285.50a2.55 2.55 0 1 0 5.1 0a2.55 2.55 0 1 0 -5.1 0zM340.95 281.30a2.55 2.55 0 1 0 5.1 0a2.55 2.55 0 1 0 -5.1 0zM339.65 285.90a2.55 2.55 0 1 0 5.1 0a2.55 2.55 0 1 0 -5.1 0zM344.75 286.70a2.55 2.55 0 1 0 5.1 0a2.55 2.55 0 1 0 -5.1 0zM348.95 281.70a2.55 2.55 0 1 0 5.1 0a2.55 2.55 0 1 0 -5.1 0zM352.25 285.90a2.55 2.55 0 1 0 5.1 0a2.55 2.55 0 1 0 -5.1 0zM358.95 284.60a2.55 2.55 0 1 0 5.1 0a2.55 2.55 0 1 0 -5.1 0zM361.45 286.30a2.55 2.55 0 1 0 5.1 0a2.55 2.55 0 1 0 -5.1 0zM366.95 284.20a2.55 2.55 0 1 0 5.1 0a2.55 2.55 0 1 0 -5.1 0zM364.85 288.80a2.55 2.55 0 1 0 5.1 0a2.55 2.55 0 1 0 -5.1 0zM341.35 290.10a2.55 2.55 0 1 0 5.1 0a2.55 2.55 0 1 0 -5.1 0zM344.75 292.20a2.55 2.55 0 1 0 5.1 0a2.55 2.55 0 1 0 -5.1 0zM353.05 290.50a2.55 2.55 0 1 0 5.1 0a2.55 2.55 0 1 0 -5.1 0zM356.85 291.80a2.55 2.55 0 1 0 5.1 0a2.55 2.55 0 1 0 -5.1 0zM333.45 294.70a2.55 2.55 0 1 0 5.1 0a2.55 2.55 0 1 0 -5.1 0zM364.85 293.40a2.55 2.55 0 1 0 5.1 0a2.55 2.55 0 1 0 -5.1 0zM356.85 296.80a2.55 2.55 0 1 0 5.1 0a2.55 2.55 0 1 0 -5.1 0zM340.95 299.30a2.55 2.55 0 1 0 5.1 0a2.55 2.55 0 1 0 -5.1 0zM348.95 300.10a2.55 2.55 0 1 0 5.1 0a2.55 2.55 0 1 0 -5.1 0zM349.15 314.70a2.55 2.55 0 1 0 5.1 0a2.55 2.55 0 1 0 -5.1 0zM356.85 313.60a2.55 2.55 0 1 0 5.1 0a2.55 2.55 0 1 0 -5.1 0zM344.95 283.30a2.55 2.55 0 1 0 5.1 0a2.55 2.55 0 1 0 -5.1 0zM347.95 289.00a2.55 2.55 0 1 0 5.1 0a2.55 2.55 0 1 0 -5.1 0z"/>
<path fill="#0000c0" d="M415.60 231.10h4.6v4.6h-4.6zM415.60 254.30h4.6v4.6h-4.6zM399.40 271.10h4.6v4.6h-4.6zM407.20 275.00h4.6v4.6h-4.6zM415.60 275.00h4.6v4.6h-4.6zM422.80 275.00h4.6v4.6h-4.6zM431.20 275.00h4.6v4.6h-4.6zM398.80 276.70h4.6v4.6h-4.6zM397.30 279.10h4.6v4.6h-4.6zM400.92 279.10h4.6v4.6h-4.6zM404.54 279.10h4.6v4.6h-4.6zM408.16 279.10h4.6v4.6h-4.6zM411.78 279.10h4.6v4.6h-4.6zM415.40 279.10h4.6v4.6h-4.6zM419.02 279.10h4.6v4.6h-4.6zM422.64 279.10h4.6v4.6h-4.6zM426.26 279.10h4.6v4.6h-4.6zM429.88 279.10h4.6v4.6h-4.6zM433.50 279.10h4.6v4.6h-4.6zM399.50 281.90h4.6v4.6h-4.6zM403.55 281.90h4.6v4.6h-4.6zM407.60 281.90h4.6v4.6h-4.6zM411.65 281.90h4.6v4.6h-4.6zM415.70 281.90h4.6v4.6h-4.6zM419.75 281.90h4.6v4.6h-4.6zM423.80 281.90h4.6v4.6h-4.6zM427.85 281.90h4.6v4.6h-4.6zM431.90 281.90h4.6v4.6h-4.6zM415.60 285.60h4.6v4.6h-4.6zM423.40 303.90h4.6v4.6h-4.6zM415.60 310.90h4.6v4.6h-4.6z"/>
<path fill="#0a780a" d="M484.00 242.55L486.75 247.85H481.25ZM475.80 266.25L478.55 271.55H473.05ZM467.90 275.05L470.65 280.35H465.15ZM472.10 273.85L474.85 279.15H469.35ZM475.80 277.15L478.55 282.45H473.05ZM480.00 274.65L482.75 279.95H477.25ZM487.50 275.05L490.25 280.35H484.75ZM495.50 274.25L498.25 279.55H492.75ZM500.10 277.15L502.85 282.45H497.35ZM491.70 279.65L494.45 284.95H488.95ZM483.40 282.15L486.15 287.45H480.65Z"/>
<path d="M329.35 291.0H374.05M340.20 282.0H363.20M340.20 299.3H363.20M351.70 282.0V299.3" fill="none" stroke="#000" stroke-width="1.5"/>
<path d="M395.40 281.2H440.60M406.60 268.9H429.40M406.60 294.0H429.40M418.00 268.9V294.0" fill="none" stroke="#000" stroke-width="1.5"/>
<path d="M462.00 275.1H506.00M472.25 265.0H495.75M472.25 285.2H495.75M484.00 265.0V285.2" fill="none" stroke="#000" stroke-width="1.5"/>
<path d="M576.0 208.9V341.5H774.2" fill="none" stroke="#000" stroke-width="1.4"/>
<line x1="572.0" y1="208.90" x2="576.0" y2="208.90" stroke="#000" stroke-width="1.4"/>
<text x="571.0" y="211.90" text-anchor="end" class="tk">6</text>
<line x1="572.0" y1="253.10" x2="576.0" y2="253.10" stroke="#000" stroke-width="1.4"/>
<text x="571.0" y="256.10" text-anchor="end" class="tk">4</text>
<line x1="572.0" y1="297.30" x2="576.0" y2="297.30" stroke="#000" stroke-width="1.4"/>
<text x="571.0" y="300.30" text-anchor="end" class="tk">2</text>
<line x1="572.0" y1="341.50" x2="576.0" y2="341.50" stroke="#000" stroke-width="1.4"/>
<text x="571.0" y="344.50" text-anchor="end" class="tk">0</text>
<line x1="609.03" y1="341.5" x2="609.03" y2="345.1" stroke="#000" stroke-width="1.4"/>
<text x="608.03" y="356.2" text-anchor="middle" class="cat">TNM-I</text>
<line x1="675.10" y1="341.5" x2="675.10" y2="345.1" stroke="#000" stroke-width="1.4"/>
<text x="674.10" y="356.2" text-anchor="middle" class="cat">TNM-II</text>
<line x1="741.17" y1="341.5" x2="741.17" y2="345.1" stroke="#000" stroke-width="1.4"/>
<text x="740.17" y="356.2" text-anchor="middle" class="cat">TNM-III</text>
<text x="538.6" y="204.7" class="let">f</text>
<text transform="translate(542.40 278.35) rotate(-90)" text-anchor="middle" class="yl">Relative expression</text>
<text transform="translate(558.10 276.25) rotate(-90)" text-anchor="middle" class="yl">of DLX6 mRNA</text>
<path fill="#f00000" d="M590.05 284.40a2.55 2.55 0 1 0 5.1 0a2.55 2.55 0 1 0 -5.1 0zM594.65 284.40a2.55 2.55 0 1 0 5.1 0a2.55 2.55 0 1 0 -5.1 0zM602.35 284.40a2.55 2.55 0 1 0 5.1 0a2.55 2.55 0 1 0 -5.1 0zM609.25 284.40a2.55 2.55 0 1 0 5.1 0a2.55 2.55 0 1 0 -5.1 0zM616.05 284.40a2.55 2.55 0 1 0 5.1 0a2.55 2.55 0 1 0 -5.1 0zM621.65 284.40a2.55 2.55 0 1 0 5.1 0a2.55 2.55 0 1 0 -5.1 0zM605.85 284.40a2.55 2.55 0 1 0 5.1 0a2.55 2.55 0 1 0 -5.1 0zM618.85 284.60a2.55 2.55 0 1 0 5.1 0a2.55 2.55 0 1 0 -5.1 0zM597.95 288.70a2.55 2.55 0 1 0 5.1 0a2.55 2.55 0 1 0 -5.1 0zM613.65 288.70a2.55 2.55 0 1 0 5.1 0a2.55 2.55 0 1 0 -5.1 0zM605.25 290.50a2.55 2.55 0 1 0 5.1 0a2.55 2.55 0 1 0 -5.1 0zM597.95 293.10a2.55 2.55 0 1 0 5.1 0a2.55 2.55 0 1 0 -5.1 0zM613.65 292.40a2.55 2.55 0 1 0 5.1 0a2.55 2.55 0 1 0 -5.1 0zM606.35 300.30a2.55 2.55 0 1 0 5.1 0a2.55 2.55 0 1 0 -5.1 0zM613.85 306.00a2.55 2.55 0 1 0 5.1 0a2.55 2.55 0 1 0 -5.1 0zM606.15 313.00a2.55 2.55 0 1 0 5.1 0a2.55 2.55 0 1 0 -5.1 0z"/>
<path fill="#0000c0" d="M671.40 242.90h4.6v4.6h-4.6zM672.60 271.10h4.6v4.6h-4.6zM668.10 274.10h4.6v4.6h-4.6zM654.70 275.50h4.6v4.6h-4.6zM663.10 276.30h4.6v4.6h-4.6zM677.60 275.70h4.6v4.6h-4.6zM683.70 276.30h4.6v4.6h-4.6zM689.70 274.20h4.6v4.6h-4.6zM654.90 277.70h4.6v4.6h-4.6zM659.35 277.70h4.6v4.6h-4.6zM663.80 277.70h4.6v4.6h-4.6zM668.25 277.70h4.6v4.6h-4.6zM672.70 277.70h4.6v4.6h-4.6zM677.15 277.70h4.6v4.6h-4.6zM681.60 277.70h4.6v4.6h-4.6zM686.05 277.70h4.6v4.6h-4.6zM690.50 277.70h4.6v4.6h-4.6zM654.90 281.30h4.6v4.6h-4.6zM659.35 281.30h4.6v4.6h-4.6zM663.80 281.30h4.6v4.6h-4.6zM668.25 281.30h4.6v4.6h-4.6zM672.70 281.30h4.6v4.6h-4.6zM677.15 281.30h4.6v4.6h-4.6zM681.60 281.30h4.6v4.6h-4.6zM686.05 281.30h4.6v4.6h-4.6zM690.50 281.30h4.6v4.6h-4.6zM656.40 285.00h4.6v4.6h-4.6zM688.20 285.60h4.6v4.6h-4.6zM665.30 287.30h4.6v4.6h-4.6zM671.50 288.90h4.6v4.6h-4.6zM679.80 288.40h4.6v4.6h-4.6zM663.10 291.20h4.6v4.6h-4.6zM672.40 297.70h4.6v4.6h-4.6zM672.40 312.80h4.6v4.6h-4.6zM679.90 311.60h4.6v4.6h-4.6z"/>
<path fill="#0a780a" d="M740.60 230.85L743.35 236.15H737.85ZM740.60 254.05L743.35 259.35H737.85ZM732.60 266.15L735.35 271.45H729.85ZM748.60 269.65L751.35 274.95H745.85ZM728.40 274.55L731.15 279.85H725.65ZM737.40 275.95L740.15 281.25H734.65ZM743.70 275.25L746.45 280.55H740.95ZM752.10 275.25L754.85 280.55H749.35ZM756.50 276.65L759.25 281.95H753.75ZM732.30 275.25L735.05 280.55H729.55ZM724.20 278.75L726.95 284.05H721.45ZM732.60 281.55L735.35 286.85H729.85ZM740.60 282.25L743.35 287.55H737.85ZM748.60 281.55L751.35 286.85H745.85ZM740.60 294.05L743.35 299.35H737.85Z"/>
<path d="M586.75 289.9H631.05M597.25 281.1H620.55M597.25 298.5H620.55M608.90 281.1V298.5" fill="none" stroke="#000" stroke-width="1.5"/>
<path d="M652.30 284.9H697.50M663.50 273.4H686.30M663.50 295.1H686.30M674.90 273.4V295.1" fill="none" stroke="#000" stroke-width="1.5"/>
<path d="M719.35 275.8H761.85M729.10 263.0H752.10M729.10 289.3H752.10M740.60 263.0V289.3" fill="none" stroke="#000" stroke-width="1.5"/>
</svg>
</body></html>
